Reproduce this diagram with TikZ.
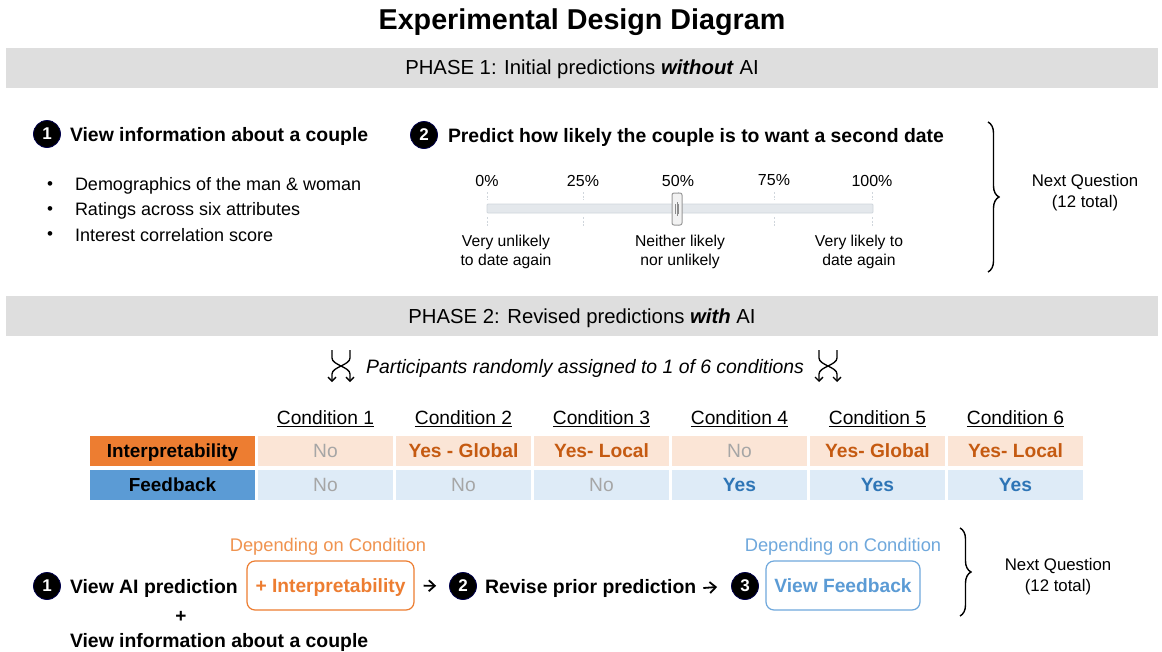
\documentclass[tikz,border=0pt]{standalone}
\usepackage{fontspec}
\setmainfont{Liberation Sans}
\usetikzlibrary{decorations.pathreplacing,arrows.meta,calc}

\definecolor{bandgray}{HTML}{DEDEDE}
\definecolor{orMain}{HTML}{ED7D31}
\definecolor{orLight}{HTML}{FBE5D6}
\definecolor{orText}{HTML}{C55A11}
\definecolor{orSoft}{HTML}{F0934F}
\definecolor{blMain}{HTML}{5B9BD5}
\definecolor{blLight}{HTML}{DEEBF7}
\definecolor{blText}{HTML}{2E75B6}
\definecolor{blSoft}{HTML}{6FA8DC}
\definecolor{noGray}{HTML}{A6A6A6}
\definecolor{trackFill}{HTML}{E4E8EC}
\definecolor{trackLine}{HTML}{D0D6DC}

\newcommand\fsz[2]{\fontsize{#1}{#2}\selectfont}

\tikzset{
  txt/.style={inner sep=0pt, outer sep=0pt, yshift=-1.5pt},
  titletxt/.style={txt, font=\fsz{28.7}{32}\bfseries},
  band/.style={fill=bandgray, draw=none},
  phasetxt/.style={txt, font=\fsz{20.3}{24}},
  steptxt/.style={txt, anchor=west, font=\fsz{19.4}{22}\bfseries},
  bullettxt/.style={txt, anchor=west, font=\fsz{18}{20}},
  numdot/.style={circle, fill=black, draw=black!70!blue, line width=0.8pt,
    text=white, font=\fsz{17}{17}\bfseries, minimum size=27pt, inner sep=0pt},
  pcttxt/.style={txt, font=\fsz{16}{18}},
  scaletxt/.style={txt, align=center, font=\fsz{15.7}{19}},
  tickmark/.style={trackLine, line width=0.8pt, dash pattern=on 2pt off 1.5pt},
  nexttxt/.style={txt, align=center, font=\fsz{16.8}{21}},
  curly/.style={decorate, decoration={brace, amplitude=11pt}, line width=1.4pt},
  condhead/.style={txt, font=\fsz{19.2}{22}},
  rowlabel/.style={minimum width=165pt, minimum height=30pt, inner sep=0pt,
    text depth=0pt, font=\fsz{18.9}{22}\bfseries},
  cell/.style={minimum width=135pt, minimum height=30pt, inner sep=0pt,
    text depth=0pt, font=\fsz{19.2}{22}},
  icell/.style={cell, fill=orLight},
  fcell/.style={cell, fill=blLight},
  nocell/.style={text=noGray},
  orcell/.style={text=orText, font=\fsz{19.2}{22}\bfseries},
  blcell/.style={text=blText, font=\fsz{19.2}{22}\bfseries},
  optbox/.style={draw, rounded corners=8pt, line width=1.2pt, inner sep=0pt,
    text depth=0pt, minimum height=49pt, font=\fsz{19.2}{22}\bfseries},
  dependtxt/.style={txt, font=\fsz{18.3}{20}},
  flow/.style={-{Straight Barb[length=6pt,width=11pt,line width=1.8pt]}, line width=1.8pt},
  swaparrow/.style={line width=1.3pt, -{Straight Barb[length=4pt,width=8pt]}},
}

\begin{document}
\begin{tikzpicture}[x=1pt, y=-1pt]
\useasboundingbox[fill=white] (0,0) rectangle (1162,651);

% ---------- title ----------
\node[titletxt] (title) at (582,21) {Experimental Design Diagram};

% ---------- phase 1 ----------
\fill[band] (6,48) rectangle (1158,88);
\node[phasetxt] (phase1) at (582,68) {PHASE 1: Initial predictions \textbf{\textit{without}} AI};

\node[numdot] (p1n1) at (47,134) {1};
\node[steptxt] (p1s1) at (70,135) {View information about a couple};

\node[txt, font=\fsz{17}{20}] (b1) at (50,184) {•};
\node[txt, font=\fsz{17}{20}] (b2) at (50,209) {•};
\node[txt, font=\fsz{17}{20}] (b3) at (50,234) {•};
\node[bullettxt] (b1t) at (75,184) {Demographics of the man \& woman};
\node[bullettxt] (b2t) at (75,209) {Ratings across six attributes};
\node[bullettxt] (b3t) at (75,234) {Interest correlation score};

\node[numdot] (p1n2) at (424,135) {2};
\node[steptxt] (p1s2) at (448,136) {Predict how likely the couple is to want a second date};

% slider
\foreach \px/\lab [count=\i] in {487/0\%, 583/25\%, 678/50\%, 774/75\%, 872/100\%}{
  \node[pcttxt] (pct\i) at (\px,179) {\lab};
  \draw[tickmark] (\px,192) -- (\px,200);
  \draw[tickmark] (\px,217) -- (\px,226);
}
\draw[trackLine, fill=trackFill, rounded corners=1pt, line width=0.8pt] (487,204) rectangle (873,213);
\node[draw=black!40, fill=black!5, rounded corners=2pt, line width=1pt,
  minimum width=10pt, minimum height=32pt, inner sep=0pt] (knob) at (677,209) {};
\draw[black!45, line width=0.5pt] (675.5,204) -- (675.5,214) (677,202) -- (677,216) (678.5,204) -- (678.5,214);

\node[scaletxt] (lowlab) at (506,250) {Very unlikely\\to date again};
\node[scaletxt] (midlab) at (680,250) {Neither likely\\nor unlikely};
\node[scaletxt] (highlab) at (859,250) {Very likely to\\date again};

\draw[curly] (988,122) -- (988,272);
\node[nexttxt] (next1) at (1085,191) {Next Question\\(12 total)};

% ---------- phase 2 ----------
\fill[band] (6,296) rectangle (1158,336);
\node[phasetxt] (phase2) at (582,317) {PHASE 2: Revised predictions \textbf{\textit{with}} AI};

\node[txt, font=\fsz{19.4}{22}\itshape] (assign) at (585,367) {Participants randomly assigned to 1 of 6 conditions};
\foreach \cx/\nm in {341/swapL, 828/swapR}{
  \coordinate (\nm a) at (\cx-9,350);
  \coordinate (\nm b) at (\cx+9,350);
  \coordinate (\nm c) at (\cx-9,382);
  \coordinate (\nm d) at (\cx+9,382);
  \draw[swaparrow] (\nm a) -- ++(0,8) .. controls +(0,7) and +(0,-7) .. ($(\nm d)+(0,-8)$) -- (\nm d);
  \draw[swaparrow] (\nm b) -- ++(0,8) .. controls +(0,7) and +(0,-7) .. ($(\nm c)+(0,-8)$) -- (\nm c);
}

% condition table
\node[rowlabel, fill=orMain] (rInt) at (172.5,451) {Interpretability};
\node[rowlabel, fill=blMain] (rFb) at (172.5,484.5) {Feedback};
\foreach \k/\itxt/\istyle/\ftxt/\fstyle in {
    1/No/nocell/No/nocell,
    2/Yes - Global/orcell/No/nocell,
    3/Yes- Local/orcell/No/nocell,
    4/No/nocell/Yes/blcell,
    5/Yes- Global/orcell/Yes/blcell,
    6/Yes- Local/orcell/Yes/blcell}{
  \pgfmathsetmacro\cxx{258+138*(\k-1)+67.5}
  \node[condhead] (head\k) at (\cxx,417) {\underline{Condition \k}};
  \node[icell, \istyle] (int\k) at (\cxx,451) {\itxt};
  \node[fcell, \fstyle] (fb\k) at (\cxx,484.5) {\ftxt};
}

% ---------- phase 2 steps ----------
\node[numdot] (p2n1) at (47,586) {1};
\node[steptxt] (p2s1) at (70,587) {View AI prediction};
\node[txt, font=\fsz{19}{22}\bfseries] (plus) at (181,615) {+};
\node[steptxt] (p2s1b) at (70,641) {View information about a couple};

\node[optbox, draw=orMain, text=orMain, minimum width=167pt] (interp) at (330.5,585.5) {+ Interpretability};
\node[dependtxt, text=orSoft] (dep1) at (328,545) {Depending on Condition};

\node[numdot] (p2n2) at (463,586) {2};
\node[steptxt] (p2s2) at (485,587) {Revise prior prediction};

\node[numdot] (p2n3) at (745,586) {3};
\node[optbox, draw=blSoft, text=blMain, minimum width=154pt] (feedback) at (843,585.5) {View Feedback};
\node[dependtxt, text=blSoft] (dep2) at (843,545) {Depending on Condition};

\draw[flow, shorten <=9pt, shorten >=13pt] (interp.east) -- (p2n2.west);
\draw[flow, shorten <=7pt, shorten >=14pt] (p2s2.east) -- (p2n3.west);

\draw[curly] (960,528) -- (960,616);
\node[nexttxt] (next2) at (1058,575) {Next Question\\(12 total)};

\end{tikzpicture}
\end{document}
